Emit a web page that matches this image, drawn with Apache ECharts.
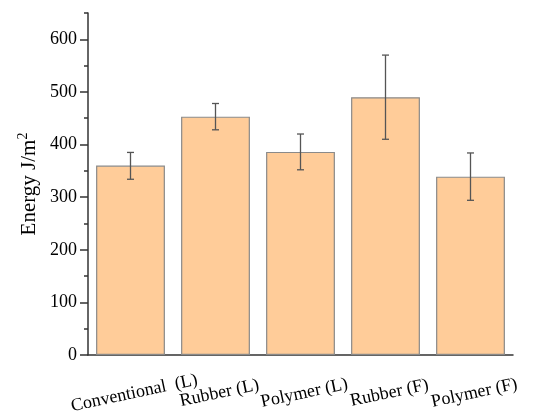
<!DOCTYPE html>
<html>
<head>
<meta charset="utf-8">
<script src="https://cdn.jsdelivr.net/npm/echarts@6/dist/echarts.min.js"></script>
<style>html,body{margin:0;padding:0;background:#fff;}#c{width:533px;height:416px;}</style>
</head>
<body>
<div id="c"></div>
<script>
const categories = ['Conventional  (L)', 'Rubber (L)', 'Polymer (L)', 'Rubber (F)', 'Polymer (F)'];
const energy = [360, 453, 386, 490, 339];
const errLow = [334, 428, 352, 410, 294];
const errHigh = [385, 478, 420, 570, 384];
const yTicks = [0, 100, 200, 300, 400, 500, 600];

const font = '"Liberation Serif", "Times New Roman", serif';
const chart = echarts.init(document.getElementById('c'));
chart.setOption({
  animation: false,
  grid: { left: 88, right: 20, top: 13, bottom: 61 },
  xAxis: [{
    type: 'category',
    data: categories,
    axisLine: { lineStyle: { color: '#333', width: 1.5 } },
    axisTick: { alignWithLabel: true, length: 7, lineStyle: { color: '#333', width: 1.5 } },
    axisLabel: { interval: 0, rotate: 12, align: 'center', verticalAlign: 'middle', margin: 39,
      padding: [0, 0, 0, 8], fontFamily: font, fontSize: 18, color: '#000' }
  }, {
    type: 'category',
    data: categories,
    position: 'bottom',
    axisLine: { show: false },
    axisTick: { interval: 0, length: 4, lineStyle: { color: '#333', width: 1.5 } },
    axisLabel: { show: false }
  }],
  yAxis: [{
    type: 'value', min: 0, max: 650, interval: 50,
    axisLine: { show: true, lineStyle: { color: '#333', width: 1.5 } },
    axisTick: { show: true, length: 4, lineStyle: { color: '#333', width: 1.5 } },
    splitLine: { show: false },
    axisLabel: { show: false },
    name: '{a|Energy J/m}{b|2}',
    nameLocation: 'middle', nameGap: 46,
    nameTextStyle: {
      rich: {
        a: { fontFamily: font, fontSize: 21, color: '#000' },
        b: { fontFamily: font, fontSize: 14, color: '#000', padding: [0, 0, 12, 0] }
      }
    }
  }, {
    type: 'value', min: 0, max: 650, interval: 100, position: 'left',
    axisLine: { show: false },
    axisTick: { show: true, length: 8, customValues: yTicks, lineStyle: { color: '#333', width: 1.5 } },
    splitLine: { show: false },
    axisLabel: { customValues: yTicks, margin: 11, fontFamily: font, fontSize: 18, color: '#000' }
  }],
  series: [{
    type: 'bar',
    data: energy,
    barCategoryGap: '19%',
    itemStyle: { color: '#FFCC99', borderColor: '#8a8a8a', borderWidth: 1.2 }
  }, {
    type: 'custom',
    data: categories.map((c, i) => [i, errLow[i], errHigh[i]]),
    renderItem: function (params, api) {
      const lo = api.coord([api.value(0), api.value(1)]);
      const hi = api.coord([api.value(0), api.value(2)]);
      const w = 3.5;
      const style = { stroke: '#555', lineWidth: 1.3 };
      return {
        type: 'group',
        children: [
          { type: 'line', shape: { x1: lo[0], y1: lo[1], x2: hi[0], y2: hi[1] }, style },
          { type: 'line', shape: { x1: hi[0] - w, y1: hi[1], x2: hi[0] + w, y2: hi[1] }, style },
          { type: 'line', shape: { x1: lo[0] - w, y1: lo[1], x2: lo[0] + w, y2: lo[1] }, style }
        ]
      };
    },
    z: 5
  }]
});
</script>
</body>
</html>
